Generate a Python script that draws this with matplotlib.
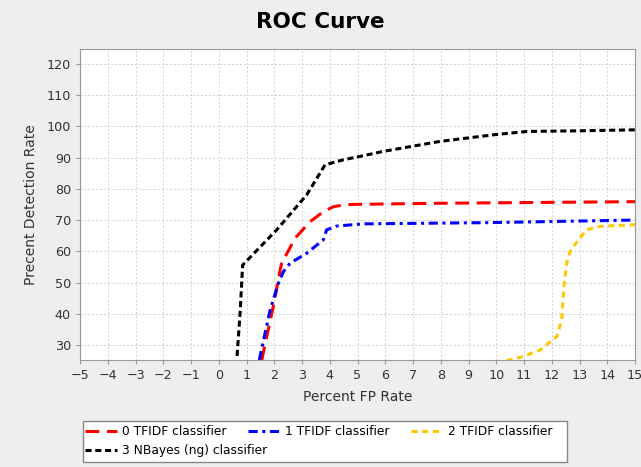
import matplotlib.pyplot as plt
from matplotlib.patches import Rectangle

# ROC curves (x = percent FP rate, y = percent detection rate)
red_x = [1.55, 1.99, 2.21, 2.27, 2.75, 3.29, 3.77, 4.13, 4.61, 7.97, 14.93, 15.2]
red_y = [25.2, 43.4, 54.0, 56.2, 64.2, 69.5, 72.7, 74.3, 75.0, 75.4, 75.9, 75.9]

blue_x = [1.46, 1.85, 2.15, 2.33, 2.57, 3.17, 3.77, 3.89, 4.25, 5.21, 9.77, 14.88, 15.2]
blue_y = [25.2, 41.2, 49.8, 53.5, 56.2, 59.4, 63.7, 66.9, 68.1, 68.8, 69.2, 70.0, 70.0]

yellow_x = [10.37, 10.96, 11.58, 12.18, 12.36, 12.44, 12.54, 12.66, 12.96, 13.26, 13.74, 14.94, 15.2]
yellow_y = [25.0, 26.3, 28.4, 32.7, 38.0, 48.7, 56.2, 59.9, 63.7, 66.9, 68.0, 68.5, 68.5]

black_x = [0.66, 0.77, 0.86, 2.09, 3.17, 3.83, 4.48, 5.09, 5.92, 7.97, 9.88, 11.1, 13.0, 14.9, 15.2]
black_y = [26.5, 40.3, 55.6, 66.9, 78.1, 87.7, 89.3, 90.4, 92.0, 95.2, 97.3, 98.4, 98.6, 98.9, 98.9]

labels = ["0 TFIDF classifier", "1 TFIDF classifier", "2 TFIDF classifier", "3 NBayes (ng) classifier"]

W, H = 641, 467
fig = plt.figure(figsize=(W / 100, H / 100), dpi=100, facecolor="#eeeeee")
ax = fig.add_axes([80 / W, 1 - 360 / H, 555 / W, 311 / H])
ax.set_facecolor("white")

l0, = ax.plot(red_x, red_y, color="#ff0000", lw=2.2, ls=(0, (4.5, 2.5)))
l1, = ax.plot(blue_x, blue_y, color="#0000ff", lw=2.2, ls=(0, (3, 1.5, 1, 1.5)))
l2, = ax.plot(yellow_x, yellow_y, color="#ffc800", lw=2.2, ls=(0, (2, 1.5)))
l3, = ax.plot(black_x, black_y, color="#000000", lw=2.2, ls=(0, (2, 1.2)))

ax.set_xlim(-5, 15)
ax.set_ylim(25.2, 124.8)
ax.set_xticks(range(-5, 16))
ax.set_yticks(range(30, 121, 10))
ax.grid(True, color="#d0d0d0", ls=(0, (2, 2)), lw=0.7)
ax.set_axisbelow(True)

for s in ax.spines.values():
    s.set_color("#999999")
ax.tick_params(colors="#999999", labelcolor="#333333", labelsize=9.2, length=3, width=0.8)

fig.text(0.5, 1 - 22 / H, "ROC Curve", fontsize=15.5, fontweight="bold", ha="center", va="center")
ax.set_xlabel("Percent FP Rate", fontsize=10, color="#333333", labelpad=6)
ax.set_ylabel("Precent Detection Rate", fontsize=10, color="#333333", labelpad=6)

# legend box drawn by hand; first row holds 0,1,2 and the second row holds 3
fig.add_artist(Rectangle((83 / W, 1 - 462 / H), 484 / W, 41 / H, transform=fig.transFigure,
                         facecolor="white", edgecolor="#888888", lw=1.0))
common = dict(loc="upper left", frameon=False, fontsize=8.8, handlelength=2.6,
              handletextpad=0.4, columnspacing=1.8, borderpad=0, borderaxespad=0)
fig.legend([l0, l1, l2], labels[:3], ncol=3, bbox_to_anchor=(85 / W, 1 - 425 / H), **common)
fig.legend([l3], labels[3:], ncol=1, bbox_to_anchor=(85 / W, 1 - 444 / H), **common)

fig.savefig("out.png", dpi=100, facecolor=fig.get_facecolor())
